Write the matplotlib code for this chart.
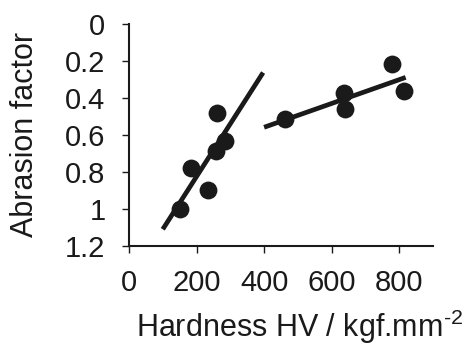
import matplotlib
matplotlib.use("Agg")
import matplotlib.pyplot as plt

hardness = [151, 185, 235, 257, 284, 261, 462, 636, 640, 780, 814]
abrasion = [1.00, 0.78, 0.90, 0.686, 0.631, 0.484, 0.516, 0.372, 0.462, 0.217, 0.361]
fit1_x = [100, 397]
fit1_y = [1.111, 0.263]
fit2_x = [400, 819]
fit2_y = [0.559, 0.289]
xticks = [0, 200, 400, 600, 800]
yticks = [0, 0.2, 0.4, 0.6, 0.8, 1.0, 1.2]
ytick_labels = ["0", "0.2", "0.4", "0.6", "0.8", "1", "1.2"]

plt.rcParams['font.family'] = ['Liberation Sans', 'DejaVu Sans']
plt.rcParams['mathtext.fontset'] = 'custom'
plt.rcParams['mathtext.rm'] = 'Liberation Sans'

fig = plt.figure(figsize=(4.66, 3.49), dpi=100)
ax = fig.add_axes([129/466, 1 - 245.7/349, (433-129)/466, (245.7-24)/349])

ink = '#1a1a1a'
ax.plot(fit1_x, fit1_y, color=ink, lw=3.4, solid_capstyle='butt', zorder=2)
ax.plot(fit2_x, fit2_y, color=ink, lw=3.4, solid_capstyle='butt', zorder=2)
ax.scatter(hardness, abrasion, s=165, color=ink, zorder=3, linewidths=0)

ax.set_xlim(0, 900)
ax.set_ylim(1.2, 0)
ax.set_xticks(xticks)
ax.set_yticks(yticks)
ax.set_yticklabels(ytick_labels)
for s in ['top', 'right']:
    ax.spines[s].set_visible(False)
for s in ['left', 'bottom']:
    ax.spines[s].set_linewidth(1.5)
    ax.spines[s].set_color(ink)
ax.tick_params(direction='out', length=5, width=1, colors=ink, labelsize=21, pad=12)
ax.set_xlabel('Hardness HV / kgf.mm$^{\\text{-2}}$', fontsize=22, color=ink)
ax.xaxis.set_label_coords(0.56, -0.28)
ax.set_ylabel('Abrasion factor', fontsize=22, color=ink, labelpad=18)

fig.savefig('out.png', dpi=100)
